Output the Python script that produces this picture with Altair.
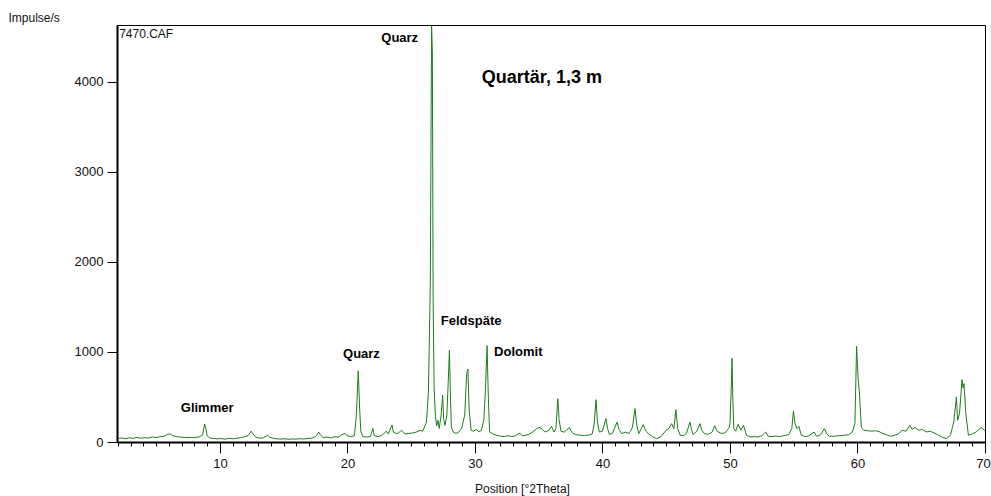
import altair as alt
import pandas as pd

# Position [°2Theta]
two_theta = [
    2.0, 2.3, 2.6, 2.9, 3.2, 3.5, 3.8, 4.1, 4.4, 4.7, 5.0, 5.3, 5.6, 5.9, 6.1, 6.3, 6.6, 6.9,
    7.2, 7.5, 7.8, 8.1, 8.4, 8.65, 8.8, 8.9, 9.0, 9.2, 9.5, 9.8, 10.1, 10.4, 10.7, 11.0, 11.3,
    11.6, 11.9, 12.2, 12.45, 12.6, 12.8, 13.1, 13.4, 13.75, 13.9, 14.2, 14.5, 14.8, 15.1, 15.4,
    15.7, 16.0, 16.3, 16.6, 16.9, 17.2, 17.5, 17.75, 17.9, 18.1, 18.4, 18.7, 19.0, 19.3, 19.55,
    19.8, 20.0, 20.3, 20.55, 20.7, 20.85, 20.95, 21.05, 21.2, 21.5, 21.8, 22.0, 22.1, 22.4, 22.7,
    23.05, 23.2, 23.5, 23.6, 23.9, 24.25, 24.5, 24.8, 25.1, 25.4, 25.7, 25.9, 26.2, 26.35, 26.5,
    26.6, 26.66, 26.72, 26.8, 26.9, 27.0, 27.1, 27.2, 27.35, 27.47, 27.55, 27.65, 27.8, 27.9,
    28.0, 28.08, 28.15, 28.3, 28.5, 28.7, 28.95, 29.2, 29.35, 29.45, 29.55, 29.7, 29.9, 30.1,
    30.3, 30.5, 30.7, 30.82, 30.95, 31.05, 31.15, 31.4, 31.7, 32.0, 32.3, 32.6, 32.9, 33.2, 33.5,
    33.7, 34.0, 34.3, 34.6, 34.9, 35.1, 35.3, 35.5, 35.8, 36.0, 36.2, 36.35, 36.5, 36.6, 36.75,
    37.0, 37.4, 37.55, 37.7, 38.0, 38.3, 38.6, 38.9, 39.2, 39.35, 39.5, 39.6, 39.75, 40.0, 40.27,
    40.4, 40.55, 40.8, 41.15, 41.3, 41.5, 41.8, 42.1, 42.35, 42.55, 42.7, 42.85, 43.2, 43.4, 43.6,
    43.9, 44.25, 44.6, 44.98, 45.2, 45.43, 45.6, 45.76, 45.9, 46.1, 46.4, 46.6, 46.86, 47.0, 47.1,
    47.4, 47.65, 47.8, 48.0, 48.3, 48.6, 48.8, 49.0, 49.3, 49.6, 49.9, 50.0, 50.1, 50.16, 50.22,
    50.3, 50.45, 50.64, 50.85, 51.06, 51.3, 51.6, 51.9, 52.2, 52.5, 52.8, 53.0, 53.3, 53.6, 53.9,
    54.2, 54.6, 54.85, 54.98, 55.1, 55.25, 55.4, 55.6, 55.9, 56.2, 56.6, 56.8, 57.1, 57.4, 57.6,
    57.8, 58.2, 58.6, 58.9, 59.3, 59.6, 59.8, 59.93, 60.05, 60.15, 60.3, 60.5, 60.8, 61.1, 61.4,
    61.7, 62.0, 62.3, 62.6, 62.9, 63.2, 63.5, 63.8, 64.1, 64.3, 64.5, 64.8, 65.1, 65.4, 65.7,
    66.0, 66.3, 66.7, 67.0, 67.3, 67.55, 67.76, 67.85, 68.0, 68.2, 68.28, 68.35, 68.5, 68.7,
    69.0, 69.3, 69.7, 70.0,
]

# Impulse/s
impulse = [
    38, 45, 36, 47, 40, 50, 42, 48, 44, 55, 50, 58, 62, 85, 90, 70, 60, 55,
    50, 48, 52, 50, 58, 80, 200, 150, 70, 45, 40, 35, 38, 32, 40, 36, 42,
    48, 55, 70, 120, 90, 55, 42, 45, 75, 55, 40, 35, 32, 36, 30,
    34, 32, 36, 33, 40, 42, 60, 110, 75, 50, 55, 45, 60, 55, 80,
    95, 70, 60, 70, 300, 790, 400, 120, 60, 55, 60, 150, 70, 60, 75,
    120, 90, 190, 110, 90, 130, 90, 95, 100, 110, 130, 120, 220, 550, 1750,
    4620, 4330, 1600, 600, 280, 180, 240, 150, 300, 520, 250, 185, 300, 650,
    1020, 500, 167, 110, 96, 105, 150, 300, 760, 810, 350, 130, 120, 140,
    115, 125, 250, 574, 1070, 500, 111, 90, 75, 65, 60, 70, 60, 70, 100,
    70, 75, 90, 120, 155, 160, 140, 110, 130, 174, 110, 150, 482, 250, 118,
    110, 160, 120, 93, 80, 74, 72, 76, 90, 200, 470, 230, 110, 120, 260,
    150, 83, 100, 222, 140, 93, 110, 95, 160, 371, 180, 93, 193, 120, 93,
    60, 37, 60, 130, 150, 204, 148, 360, 150, 74, 70, 100, 222, 130, 83,
    120, 204, 130, 93, 85, 110, 180, 120, 95, 100, 150, 204, 600, 930, 500,
    148, 120, 197, 130, 185, 74, 56, 60, 55, 70, 111, 63, 60, 66, 60,
    70, 82, 150, 345, 204, 150, 174, 74, 60, 70, 111, 63, 80, 148, 90,
    63, 65, 70, 74, 80, 110, 204, 1063, 700, 556, 163, 130, 125, 120, 125,
    115, 93, 80, 63, 75, 90, 130, 120, 185, 141, 160, 130, 140, 111, 120,
    100, 80, 50, 37, 80, 222, 500, 241, 315, 693, 600, 648, 315, 74,
    90, 111, 160, 125,
]

label_text = ["Quarz", "Quarz", "Glimmer", "Feldspäte", "Dolomit"]
label_x = [24.1, 21.1, 9.0, 29.7, 33.4]
label_y = [4485, 974, 374, 1341, 997]

title_text = ["Quartär, 1,3 m"]
title_x = [35.25]
title_y = [4040]

file_text = ["7470.CAF"]
file_x = [2.1]
file_y = [4530]

x_tick_values = list(range(2, 71))
y_tick_values = [0, 1000, 2000, 3000, 4000]

df = pd.DataFrame({"x": two_theta, "y": impulse})
labels_df = pd.DataFrame({"t": label_text, "x": label_x, "y": label_y})
title_df = pd.DataFrame({"t": title_text, "x": title_x, "y": title_y})
file_df = pd.DataFrame({"t": file_text, "x": file_x, "y": file_y})

xscale = alt.Scale(domain=[1.93, 70], nice=False, zero=False)
yscale = alt.Scale(domain=[0, 4630], nice=False)

FONT = "Liberation Sans"

x_axis = alt.Axis(
    values=x_tick_values,
    format="d",
    labelExpr="datum.value % 10 === 0 ? datum.label : ''",
    tickSize={"condition": {"test": "datum.value % 10 === 0", "value": 11}, "value": 4},
    labelOffset={"condition": {"test": "datum.value === 70", "value": -2}, "value": 0},
    tickColor="black",
    tickWidth=1,
    domainColor="black",
    domainWidth=2,
    labelFont=FONT,
    labelFontSize=13,
    labelColor="#111111",
    labelPadding=4,
    labelOverlap=False,
    labelFlush=False,
    labelBound=False,
    grid=False,
    title="Position [°2Theta]",
    titleFont=FONT,
    titleFontSize=12,
    titleFontWeight="normal",
    titleColor="#111111",
    titleX=405,
    titleY=46,
    titleAlign="center",
    titleBaseline="middle",
)

y_axis = alt.Axis(
    values=y_tick_values,
    format="d",
    tickSize=10,
    tickColor="black",
    domainColor="black",
    domainWidth=2,
    labelFont=FONT,
    labelFontSize=13,
    labelColor="#111111",
    labelPadding=4,
    labelOverlap=False,
    grid=False,
    title="Impulse/s",
    titleFont=FONT,
    titleFontSize=12,
    titleFontWeight="normal",
    titleColor="#111111",
    titleAngle=0,
    titleX=-109,
    titleY=-8,
    titleAlign="left",
    titleBaseline="middle",
)

X = alt.X("x:Q", scale=xscale, axis=x_axis)
Y = alt.Y("y:Q", scale=yscale, axis=y_axis)

line = alt.Chart(df).mark_line(color="#1d7d1d", strokeWidth=1, clip=True).encode(x=X, y=Y)

peak_labels = alt.Chart(labels_df).mark_text(
    font=FONT, fontSize=13, fontWeight="bold", color="black", baseline="middle", align="center"
).encode(x=X, y=Y, text="t:N")

title_label = alt.Chart(title_df).mark_text(
    font=FONT, fontSize=18, fontWeight="bold", color="black", baseline="middle", align="center"
).encode(x=X, y=Y, text="t:N")

file_label = alt.Chart(file_df).mark_text(
    font=FONT, fontSize=12, color="#111111", baseline="middle", align="left"
).encode(x=X, y=Y, text="t:N")

chart = (
    alt.layer(line, peak_labels, title_label, file_label)
    .properties(
        width=868,
        height=417,
        autosize=alt.AutoSizeParams(type="none"),
        padding={"left": 117, "top": 25, "right": 6, "bottom": 54},
        background="white",
    )
    .configure_view(stroke="black", strokeWidth=1)
    .configure_axis(labelOverlap=False)
)

chart.save("out.html", embed_options={"renderer": "svg", "actions": False})
